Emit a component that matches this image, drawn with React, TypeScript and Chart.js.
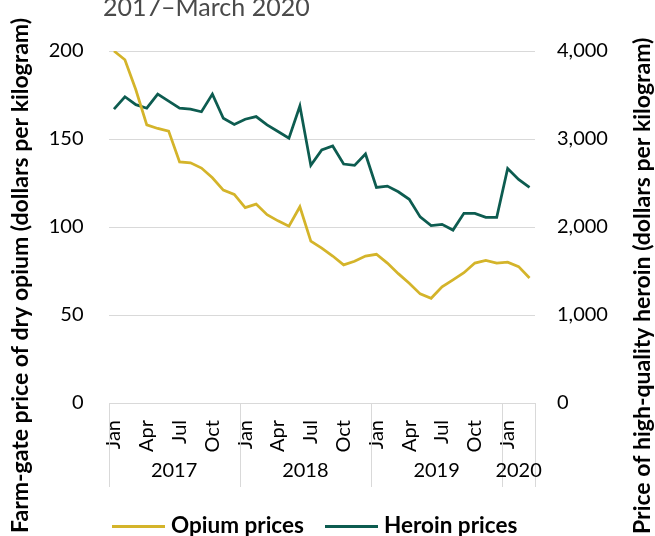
import { useEffect, useRef } from 'react';
import { Chart, registerables } from 'chart.js';

Chart.register(...registerables);

const monthNames = ['Jan', 'Feb', 'Mar', 'Apr', 'May', 'Jun', 'Jul', 'Aug', 'Sep', 'Oct', 'Nov', 'Dec'];
const months: string[] = [
  ...monthNames, ...monthNames, ...monthNames, 'Jan', 'Feb', 'Mar',
];
const yearLabels = ['2017', '2018', '2019', '2020'];
const yearMonthCounts = [12, 12, 12, 3];

const opiumPrices = [
  200, 195, 178, 158, 156, 154.5, 137, 136.5, 133.5, 128, 121, 118.5,
  111, 113, 107, 103.5, 100.5, 111.5, 92, 88, 83.5, 78.5, 80.5, 83.5,
  84.5, 79.5, 73.5, 68, 62, 59.5, 66, 70, 74, 79.5, 81, 79.5,
  80, 77.5, 71,
];
const heroinPrices = [
  3340, 3480, 3390, 3350, 3510, 3430, 3350, 3340, 3310, 3510, 3235, 3165,
  3225, 3255, 3160, 3085, 3010, 3375, 2700, 2875, 2920, 2715, 2700, 2830,
  2450, 2465, 2400, 2315, 2115, 2015, 2030, 1965, 2155, 2155, 2110, 2110,
  2665, 2540, 2450,
];

const titleText = '2017–March 2020';
const leftTitle = 'Farm-gate price of dry opium (dollars per kilogram)';
const rightTitle = 'Price of high-quality heroin (dollars per kilogram)';
const seriesNames = ['Opium prices', 'Heroin prices'];

const OPIUM = '#D4B42A';
const HEROIN = '#0D5C50';
const FONT = 'Lato, "Open Sans", sans-serif';

const extras = {
  id: 'extras',
  afterDraw(chart: any) {
    const ctx = chart.ctx as CanvasRenderingContext2D;
    const xs = chart.scales.x;
    const area = chart.chartArea;
    ctx.save();

    // title
    ctx.fillStyle = '#4a4a4a';
    ctx.font = `25px ${FONT}`;
    ctx.textAlign = 'left';
    ctx.textBaseline = 'alphabetic';
    ctx.fillText(titleText, 103, 16);

    // year separators and labels
    const bounds: number[] = [xs.left];
    let idx = 0;
    yearMonthCounts.forEach((c, k) => {
      idx += c;
      if (k < yearMonthCounts.length - 1) {
        bounds.push((xs.getPixelForValue(idx - 1) + xs.getPixelForValue(idx)) / 2);
      }
    });
    bounds.push(xs.right);
    ctx.strokeStyle = '#d9d9d9';
    ctx.lineWidth = 1;
    bounds.forEach((b) => {
      ctx.beginPath();
      ctx.moveTo(Math.round(b) + 0.5, area.bottom);
      ctx.lineTo(Math.round(b) + 0.5, 487);
      ctx.stroke();
    });
    ctx.fillStyle = '#000';
    ctx.font = `20px ${FONT}`;
    ctx.textAlign = 'center';
    ctx.textBaseline = 'middle';
    yearLabels.forEach((y, k) => {
      ctx.fillText(y, (bounds[k] + bounds[k + 1]) / 2, 471);
    });

    // axis titles
    ctx.font = `bold 23px ${FONT}`;
    ctx.textAlign = 'left';
    ctx.textBaseline = 'alphabetic';
    ctx.save();
    ctx.translate(28, 533);
    ctx.rotate(-Math.PI / 2);
    ctx.fillText(leftTitle, 0, 0);
    ctx.restore();
    ctx.save();
    ctx.translate(650, 534);
    ctx.rotate(-Math.PI / 2);
    ctx.fillText(rightTitle, 0, 0);
    ctx.restore();

    // legend
    const items = [
      { x: 112, text: seriesNames[0], color: OPIUM },
      { x: 325, text: seriesNames[1], color: HEROIN },
    ];
    ctx.font = `bold 22.5px ${FONT}`;
    ctx.textBaseline = 'middle';
    items.forEach((it) => {
      ctx.strokeStyle = it.color;
      ctx.lineWidth = 3;
      ctx.beginPath();
      ctx.moveTo(it.x, 526.5);
      ctx.lineTo(it.x + 53, 526.5);
      ctx.stroke();
      ctx.fillStyle = '#000';
      ctx.fillText(it.text, it.x + 59, 526);
    });
    ctx.restore();
  },
};

export default function App() {
  const ref = useRef<HTMLCanvasElement>(null);
  useEffect(() => {
    document.body.style.margin = '0';
    let chart: Chart | null = null;
    let cancelled = false;
    const loads = ['20px Lato', 'bold 20px Lato'].map((f) => document.fonts.load(f));
    Promise.all(loads)
      .catch(() => null)
      .then(() => {
        if (cancelled || !ref.current) return;
        chart = new Chart(ref.current, {
          type: 'line',
          data: {
            labels: months,
            datasets: [
              {
                label: seriesNames[0],
                data: opiumPrices,
                borderColor: OPIUM,
                backgroundColor: OPIUM,
                borderWidth: 2.75,
                pointRadius: 0,
                tension: 0,
                yAxisID: 'y',
              },
              {
                label: seriesNames[1],
                data: heroinPrices,
                borderColor: HEROIN,
                backgroundColor: HEROIN,
                borderWidth: 2.75,
                pointRadius: 0,
                tension: 0,
                yAxisID: 'y1',
              },
            ],
          },
          options: {
            animation: false,
            responsive: true,
            maintainAspectRatio: false,
            layout: { padding: { top: 51, left: 0, right: 0, bottom: 0 } },
            plugins: {
              legend: { display: false },
              tooltip: { enabled: false },
              title: { display: false },
            },
            scales: {
              x: {
                type: 'category',
                offset: true,
                grid: { display: false },
                border: { display: false },
                ticks: {
                  autoSkip: false,
                  minRotation: 90,
                  maxRotation: 90,
                  padding: 9,
                  color: '#000',
                  font: { family: FONT, size: 20 },
                  callback: (_v: any, i: number) => (i % 3 === 0 ? months[i] : ''),
                },
                afterFit: (s: any) => {
                  s.height = 133;
                },
              },
              y: {
                position: 'left',
                min: 0,
                max: 200,
                grid: { color: '#d9d9d9', lineWidth: 1, drawTicks: false },
                border: { display: false },
                ticks: {
                  stepSize: 50,
                  padding: 25,
                  color: '#000',
                  font: { family: FONT, size: 20 },
                },
                afterFit: (s: any) => {
                  s.width = 108.5;
                },
              },
              y1: {
                position: 'right',
                min: 0,
                max: 4000,
                grid: { display: false, drawTicks: false },
                border: { display: false },
                ticks: {
                  stepSize: 1000,
                  padding: 22,
                  color: '#000',
                  font: { family: FONT, size: 20 },
                },
                afterFit: (s: any) => {
                  s.width = 120;
                },
              },
            },
          },
          plugins: [extras],
        });
      });
    return () => {
      cancelled = true;
      if (chart) chart.destroy();
    };
  }, []);
  return (
    <div style={{ position: 'relative', width: 655, height: 536 }}>
      <canvas ref={ref} />
    </div>
  );
}
